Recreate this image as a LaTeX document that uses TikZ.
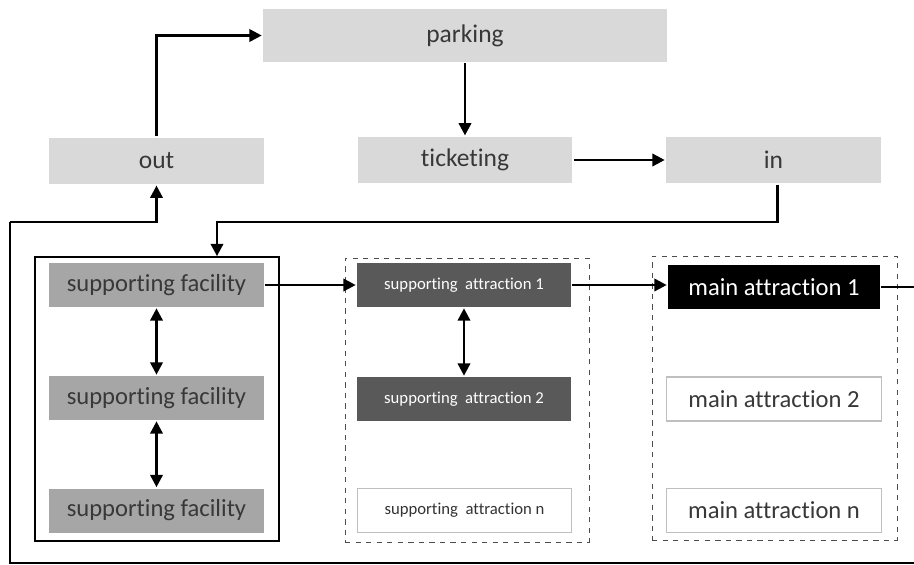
\documentclass[tikz,border=0pt]{standalone}
\usepackage{fontspec}
\setmainfont{Carlito}[Ligatures=NoCommon]
\usetikzlibrary{arrows.meta}

\definecolor{boxlight}{HTML}{D9D9D9}
\definecolor{boxmid}{HTML}{A6A6A6}
\definecolor{boxdark}{HTML}{595959}
\definecolor{textdark}{HTML}{383838}
\definecolor{boxline}{HTML}{BFBFBF}

\begin{document}
\begin{tikzpicture}[x=0.02cm, y=-0.02cm, >={Triangle[length=7pt,width=7pt]}, line width=1.5pt,
    lightbox/.style={fill=boxlight, text=textdark, inner sep=0pt, minimum width=4.3cm, minimum height=0.93cm, font=\fontsize{14.5}{17}\selectfont},
    facility/.style={fill=boxmid, text=textdark, inner sep=0pt, minimum width=4.3cm, minimum height=0.88cm, font=\fontsize{14}{17}\selectfont},
    sattr/.style={fill=boxdark, text=white, inner sep=0pt, minimum width=4.28cm, minimum height=0.88cm, font=\fontsize{9.5}{12}\selectfont},
    sattrn/.style={sattr, fill=white, text=black!80, draw=boxline, line width=0.6pt},
    mattr/.style={fill=black, text=white, inner sep=0pt, minimum width=4.24cm, minimum height=0.88cm, font=\fontsize{14}{17}\selectfont},
    mattrn/.style={mattr, fill=white, text=textdark, draw=boxline, line width=0.6pt, minimum width=4.3cm},
    groupbox/.style={draw, line width=1pt, inner sep=0pt, minimum width=4.88cm, minimum height=5.68cm},
    dashgroup/.style={draw=black!70, dashed, line width=0.5pt, inner sep=0pt, minimum width=4.88cm, minimum height=5.68cm}]
    \useasboundingbox (0,0) rectangle (914,565);

    % top row
    \node[lightbox, minimum width=8.08cm, minimum height=1.06cm] (parking) at (465,35.5) {parking};
    \node[lightbox] (out) at (156.5,161) {out};
    \node[lightbox] (ticketing) at (465,160) {ticketing};
    \node[lightbox] (in) at (773.5,160) {in};

    % groups
    \node[groupbox] (sfgroup) at (157,399) {};
    \node[dashgroup] (sagroup) at (467,400) {};
    \node[dashgroup, minimum width=4.9cm] (magroup) at (774.5,398) {};

    % supporting facilities
    \node[facility] (sf1) at (156.5,285) {supporting facility};
    \node[facility] (sf2) at (156.5,398) {supporting facility};
    \node[facility] (sf3) at (156.5,510.5) {supporting facility};

    % supporting attractions
    \node[sattr] (sa1) at (464,285) {supporting\ \ attraction 1};
    \node[sattr] (sa2) at (464,399) {supporting\ \ attraction 2};
    \node[sattrn] (san) at (464.5,510.5) {supporting\ \ attraction n};

    % main attractions
    \node[mattr] (ma1) at (774,287) {main attraction 1};
    \node[mattrn] (ma2) at (774,399) {main attraction 2};
    \node[mattrn] (man) at (774,510.5) {main attraction n};

    \coordinate (intop) at (217,222);
    \coordinate (loopr) at (918,287);
    \coordinate (loopb) at (918,563);
    \coordinate (loopl) at (10,563);
    \coordinate (loopt) at (10,222);

    % connectors
    \draw[->] (out.north) |- (parking.west);
    \draw[->] (parking.south) -- (ticketing.north);
    \draw[->] (ticketing.east) -- (in.west);
    \draw[->] ([xshift=0.08cm]in.south) |- (intop) -- (intop |- sfgroup.north);
    \draw[<->] (sf1.south) -- (sf2.north);
    \draw[<->] (sf2.south) -- (sf3.north);
    \draw[->] (sf1.east) -- (sa1.west);
    \draw[<->] (sa1.south) -- (sa2.north);
    \draw[->] (sa1.east) -- (sa1.east -| ma1.west);
    \draw (ma1.east) -- (loopr) -- (loopb) -- (loopl) -- (loopt);
    \draw[->] (loopt) -| (out.south);
\end{tikzpicture}
\end{document}
